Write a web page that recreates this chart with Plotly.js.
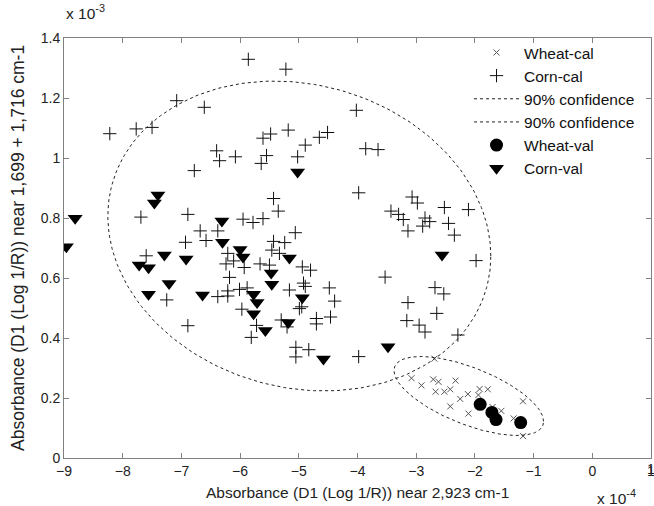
<!DOCTYPE html>
<html><head><meta charset="utf-8">
<script src="https://cdn.plot.ly/plotly-3.0.1.min.js"></script>
<style>html,body{margin:0;padding:0;background:#fff}#chart{width:654px;height:506px}</style>
</head><body><div id="chart"></div>
<script>
// x values in units of 1e-4, y values in units of 1e-3 (as shown on the axes)
var wheatCalX = [-2.69,-3.08,-2.91,-2.71,-2.62,-2.33,-2.67,-2.52,-2.42,-2.25,-2.12,-1.92,-1.78,-1.94,-2.42,-2.11,-1.70,-1.55,-1.34,-1.18,-1.18];
var wheatCalY = [0.331,0.266,0.242,0.262,0.254,0.258,0.221,0.221,0.229,0.197,0.213,0.230,0.229,0.210,0.172,0.148,0.170,0.157,0.132,0.189,0.073];

var cornCalX = [-5.86,-5.22,-4.02,-7.08,-6.61,-8.22,-7.77,-7.50,-5.61,-5.48,-5.18,-4.65,-4.51,-4.89,-3.86,-3.65,-6.40,-6.35,-6.08,-5.55,
                -5.64,-5.02,-6.78,-3.98,-5.43,-3.07,-2.98,-2.52,-2.11,-3.43,-3.30,-3.22,-2.85,-2.77,-2.89,-2.45,-3.14,-2.35,-5.35,-7.69,
                -6.89,-5.95,-5.78,-5.61,-5.06,-6.68,-6.38,-6.93,-6.58,-5.43,-5.24,-5.46,-5.33,-6.21,-7.60,-6.11,-6.24,-5.93,-5.66,-5.50,
                -4.94,-4.80,-1.98,-3.53,-6.18,-4.92,-4.89,-5.16,-4.48,-4.39,-2.68,-2.53,-3.14,-6.01,-5.88,-6.38,-6.21,-6.21,-7.25,-5.97,
                -4.99,-4.95,-4.70,-4.70,-4.46,-2.65,-3.16,-2.95,-2.85,-2.29,-5.30,-5.20,-5.72,-5.81,-6.89,-5.05,-4.83,-5.05,-3.98];
var cornCalY = [1.329,1.296,1.159,1.191,1.169,1.081,1.097,1.102,1.066,1.080,1.093,1.069,1.085,1.043,1.031,1.028,1.024,0.991,1.004,1.008,
                0.982,1.004,0.958,0.884,0.865,0.870,0.850,0.835,0.828,0.823,0.812,0.795,0.800,0.788,0.773,0.782,0.757,0.743,0.823,0.803,
                0.812,0.796,0.785,0.798,0.751,0.757,0.757,0.719,0.725,0.722,0.718,0.693,0.682,0.682,0.674,0.657,0.647,0.635,0.647,0.643,
                0.637,0.626,0.658,0.603,0.602,0.583,0.572,0.560,0.567,0.523,0.568,0.547,0.518,0.562,0.567,0.538,0.540,0.557,0.527,0.496,
                0.498,0.504,0.465,0.447,0.470,0.482,0.458,0.443,0.420,0.410,0.460,0.437,0.442,0.402,0.441,0.369,0.361,0.337,0.338];

var wheatValX = [-1.91,-1.71,-1.64,-1.22];
var wheatValY = [0.179,0.152,0.128,0.118];

var cornValX = [-8.96,-8.81,-7.40,-7.46,-5.02,-6.31,-6.30,-6.00,-5.95,-5.16,-7.29,-6.92,-7.72,-7.56,-7.21,-7.56,-6.64,-5.77,-5.71,-5.77,
                -5.47,-5.46,-4.94,-5.18,-5.57,-4.58,-3.48,-2.56];
var cornValY = [0.704,0.799,0.877,0.850,0.953,0.790,0.719,0.695,0.670,0.667,0.677,0.663,0.643,0.634,0.582,0.546,0.543,0.546,0.518,0.481,
                0.617,0.579,0.534,0.452,0.425,0.330,0.371,0.677];

// 90% confidence ellipses: centre and two conjugate semi-axis vectors
var wheatEllipse = {cx:-2.104, cy:0.2067, ax:1.274, ay:-0.0847, bx:0, by:0.1008};
var cornEllipse  = {cx:-4.991, cy:0.740,  ax:3.262, ay:-0.0667, bx:0, by:0.512};

// x-axis end tick, drawn as an annotation so it is not dropped at the page edge
var xTickLast = 1;

function ellipsePath(e){
  var xs=[], ys=[], n=240;
  for(var i=0;i<=n;i++){
    var t=2*Math.PI*i/n;
    xs.push(e.cx + e.ax*Math.cos(t) + e.bx*Math.sin(t));
    ys.push(e.cy + e.ay*Math.cos(t) + e.by*Math.sin(t));
  }
  return {x:xs, y:ys};
}
var we = ellipsePath(wheatEllipse), ce = ellipsePath(cornEllipse);

var font = 'Arial, "Liberation Sans", sans-serif';
var traces = [
  {x:wheatCalX, y:wheatCalY, mode:'markers', type:'scatter', name:'Wheat-cal',
   marker:{symbol:'x-thin-open', size:6, color:'#555555', line:{width:1, color:'#555555'}}},
  {x:cornCalX, y:cornCalY, mode:'markers', type:'scatter', name:'Corn-cal',
   marker:{symbol:'cross-thin-open', size:9.5, color:'#111111', line:{width:1, color:'#111111'}}},
  {x:we.x, y:we.y, mode:'lines', type:'scatter', name:'90% confidence',
   line:{color:'#222222', width:1, dash:'dot'}},
  {x:ce.x, y:ce.y, mode:'lines', type:'scatter', name:'90% confidence',
   line:{color:'#222222', width:1, dash:'dot'}},
  {x:wheatValX, y:wheatValY, mode:'markers', type:'scatter', name:'Wheat-val',
   marker:{symbol:'circle', size:13, color:'#000000'}},
  {x:cornValX, y:cornValY, mode:'markers', type:'scatter', name:'Corn-val',
   marker:{symbol:'triangle-down', size:13, color:'#000000'}}
];

var axisCommon = {showgrid:false, zeroline:false, showline:true, linecolor:'#808080', linewidth:1,
  mirror:'ticks', ticks:'inside', ticklen:5, tickcolor:'#808080', ticklabeloverflow:'allow',
  tickfont:{family:font, size:14, color:'#222222'}};

var layout = {
  width:654, height:506,
  margin:{l:64, r:3, t:38, b:48},
  paper_bgcolor:'#ffffff', plot_bgcolor:'#ffffff',
  showlegend:true,
  legend:{x:0.69, y:1.005, xanchor:'left', yanchor:'top', bgcolor:'rgba(0,0,0,0)',
          font:{family:font, size:15.5, color:'#111111'}, itemwidth:45},
  xaxis:Object.assign({}, axisCommon, {range:[-9,1], tickmode:'linear', tick0:-9, dtick:1}),
  yaxis:Object.assign({}, axisCommon, {range:[0,1.4], tickmode:'linear', tick0:0, dtick:0.2}),
  annotations:[
    {text:'Absorbance (D1 (Log 1/R)) near 1,699 + 1,716 cm-1', xref:'paper', yref:'paper',
     x:-0.0784, y:0.5, xanchor:'center', yanchor:'middle', textangle:-90, showarrow:false,
     font:{family:font, size:17.5, color:'#222222'}},
    {text:'Absorbance (D1 (Log 1/R)) near 2,923 cm-1', xref:'paper', yref:'paper',
     x:0.5, y:-0.0833, xanchor:'center', yanchor:'middle', showarrow:false,
     font:{family:font, size:15.5, color:'#222222'}},
    {text:'x 10<sup>-3</sup>', xref:'paper', yref:'paper', x:0.0, y:1.062, xanchor:'left', yanchor:'middle',
     showarrow:false, font:{family:font, size:15.5, color:'#222222'}},
    {text:'x 10<sup>-4</sup>', xref:'paper', yref:'paper', x:0.9046, y:-0.093, xanchor:'left', yanchor:'middle',
     showarrow:false, font:{family:font, size:15.5, color:'#222222'}},
    {text:String(xTickLast), xref:'x', yref:'paper', x:xTickLast, y:-0.027, xanchor:'center', yanchor:'middle',
     showarrow:false, font:{family:font, size:14, color:'#222222'}}
  ]
};

Plotly.newPlot('chart', traces, layout, {displayModeBar:false, staticPlot:true});
</script></body></html>
